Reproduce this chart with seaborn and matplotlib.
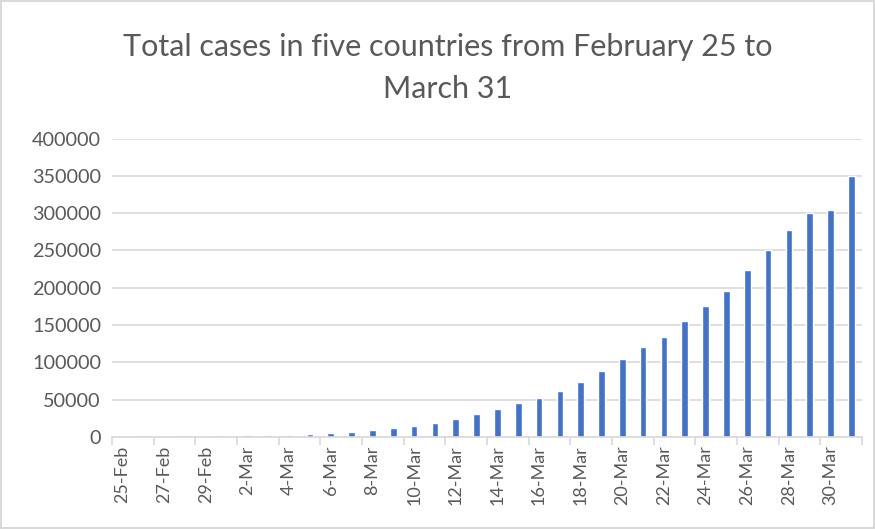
import pandas as pd
import numpy as np
import matplotlib
matplotlib.use("Agg")
import matplotlib.pyplot as plt
import seaborn as sns

# dates shown on the x axis (25-Feb .. 31-Mar)
dates = ["25-Feb", "26-Feb", "27-Feb", "28-Feb", "29-Feb"] + [f"{d}-Mar" for d in range(1, 32)]

# total cases
cases = [300, 400, 450, 600, 900, 1700, 2100, 2400, 3200, 4100,
         5800, 7200, 9400, 12000, 14800, 18300, 23500, 30500, 37300, 44900,
         52500, 61900, 74000, 88400, 104600, 120700, 134200, 154800, 175000, 196100,
         223400, 251300, 277500, 300500, 303800, 350500]

df = pd.DataFrame({"Date": dates, "Cases": cases})

sns.set_theme(style="white")
plt.rcParams["font.family"] = ["Lato", "DejaVu Sans"]

fig = plt.figure(figsize=(8.75, 5.29), dpi=100)
fig.patch.set_edgecolor("#d9d9d9")
fig.patch.set_linewidth(1.5)
ax = fig.add_axes([0.128, 0.174, 0.857, 0.564])

sns.barplot(data=df, x="Date", y="Cases", order=dates, color="#4472C4",
            width=0.32, saturation=1, ax=ax)

ax.set_ylim(0, 400000)
ax.set_xlim(-0.5, len(dates) - 0.5)
ax.set_yticks(np.arange(0, 400001, 50000))
ax.set_yticklabels([str(v) for v in range(0, 400001, 50000)], fontsize=14.3, color="#595959")
ax.yaxis.grid(True, color="#d9d9d9", linewidth=1.2)
ax.set_axisbelow(True)

# labels every second day, tick marks between categories
ax.set_xticks(range(0, len(dates), 2))
ax.set_xticklabels(dates[::2], rotation=90, fontsize=13, color="#595959")
ax.set_xticks(np.arange(-0.5, len(dates), 2), minor=True)
ax.tick_params(axis="x", which="major", length=0, pad=6)
ax.tick_params(axis="x", which="minor", length=6, color="#d9d9d9", width=1.2, direction="out", bottom=True)
ax.tick_params(axis="y", length=0, pad=8)

for s in ["top", "right", "left"]:
    ax.spines[s].set_visible(False)
ax.spines["bottom"].set_color("#d9d9d9")
ax.spines["bottom"].set_linewidth(1.2)

ax.set_xlabel("")
ax.set_ylabel("")
fig.text(0.512, 0.938, "Total cases in five countries from February 25 to\nMarch 31",
         ha="center", va="top", fontsize=22, color="#595959", linespacing=1.62)

fig.savefig("out.png", dpi=100)
